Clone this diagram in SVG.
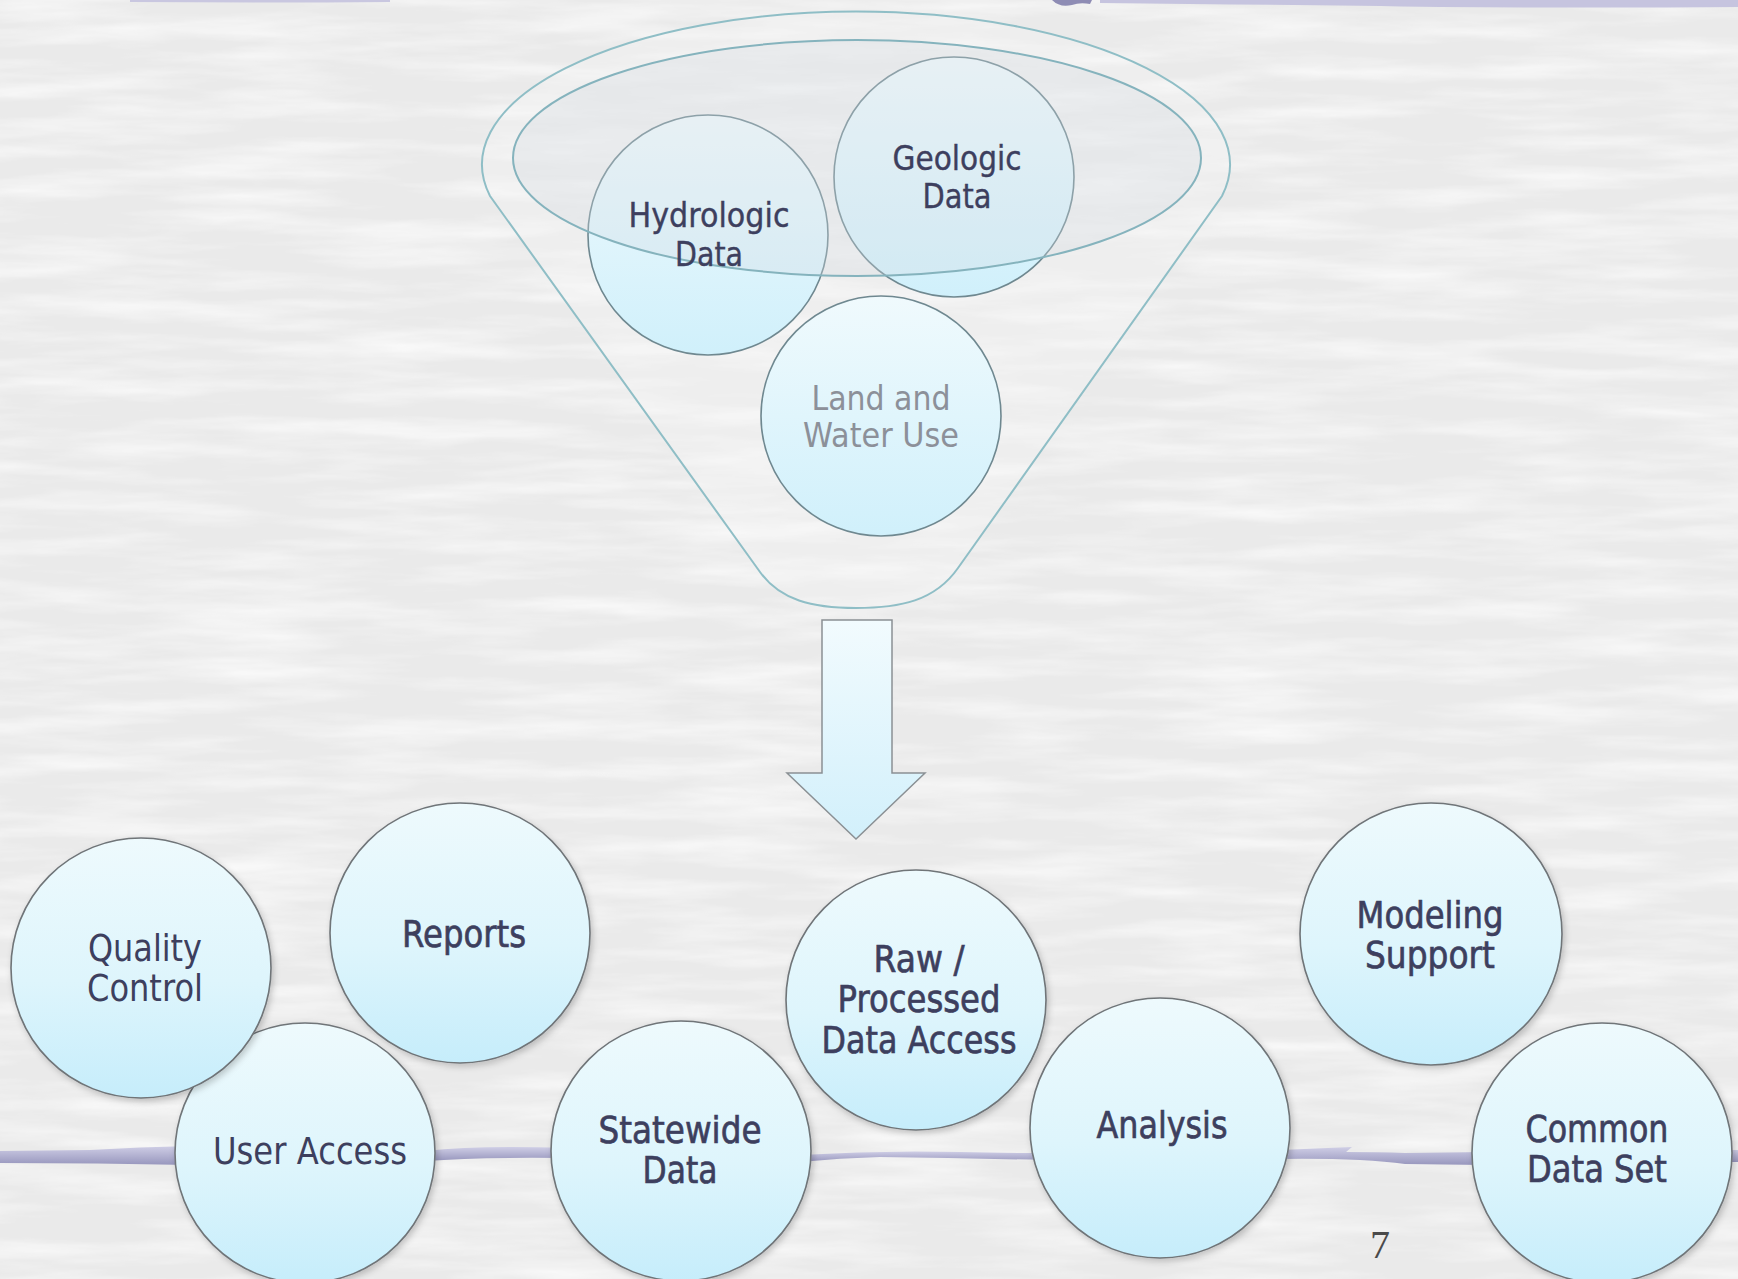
<svg xmlns="http://www.w3.org/2000/svg" width="1738" height="1279" viewBox="0 0 1738 1279">
<defs>
<style>
.node{stroke:#6f7478;stroke-width:1.6;fill:url(#circ);filter:url(#sh)}
.fnode{stroke:#6f8890;stroke-width:1.6;fill:url(#circF)}
.lbl{font-family:"DejaVu Sans",Verdana,sans-serif;font-size:38px;fill:#3d3f5e;text-anchor:middle}
.bold{stroke:#3d3f5e;stroke-width:0.7}
.flbl{font-family:"DejaVu Sans",Verdana,sans-serif;font-size:34px;fill:#3d3f5e;text-anchor:middle;stroke:#3d3f5e;stroke-width:0.4}
.glbl{font-family:"DejaVu Sans",Verdana,sans-serif;font-size:34px;fill:#8c9099;text-anchor:middle}
.bar{fill:url(#barG)}
</style>
<linearGradient id="circ" x1="0" y1="0" x2="0" y2="1">
<stop offset="0" stop-color="#eefafd"/><stop offset="0.55" stop-color="#def5fc"/><stop offset="1" stop-color="#c6edfb"/>
</linearGradient>
<linearGradient id="circF" x1="0" y1="0" x2="0" y2="1">
<stop offset="0" stop-color="#f0fafd"/><stop offset="1" stop-color="#d0f0fb"/>
</linearGradient>
<linearGradient id="arrowG" x1="0" y1="0" x2="0" y2="1">
<stop offset="0" stop-color="#f2fbfe"/><stop offset="1" stop-color="#d2f0fb"/>
</linearGradient>
<linearGradient id="barG" x1="0" y1="0" x2="0" y2="1">
<stop offset="0" stop-color="#cfcee6"/><stop offset="1" stop-color="#9796bd"/>
</linearGradient>
<filter id="sh" x="-10%" y="-10%" width="125%" height="125%">
<feDropShadow dx="2" dy="3" stdDeviation="3" flood-color="#000" flood-opacity="0.2"/>
</filter>
<filter id="paper" x="0" y="0" width="100%" height="100%">
<feTurbulence type="fractalNoise" baseFrequency="0.006 0.05" numOctaves="4" seed="11"/>
<feColorMatrix type="matrix" values="0 0 0 0 1  0 0 0 0 1  0 0 0 0 1  1.3 0 0 0 -0.5"/>
</filter>
</defs>

<g id="background">
<rect width="1738" height="1279" fill="#eaeaea"/>
<rect width="1738" height="1279" filter="url(#paper)"/>
<path d="M130,0 L390,0 L390,2 Q260,3 130,2 Z" fill="#c9c7e0"/>
<path d="M1100,0 L1738,0 L1738,7 Q1600,8 1440,7 Q1300,5 1100,3 Z" fill="#c6c4df"/>
<path d="M1052,0 Q1060,8 1072,5 Q1080,2 1090,4 L1092,0 Z" fill="#8e8cb4"/>
</g>

<g id="funnel">
<path d="M490,196 A374 153 0 1 1 1222,196 L958,568 C935,601 900,608 856,608 C812,608 780,600 760,572 Z" fill="#f5f6f7" fill-opacity="0.35" stroke="#8fbec6" stroke-width="2"/>
</g>

<g id="node-land-water-use">
<ellipse cx="881" cy="416" rx="120" ry="120" class="fnode" stroke="#8aa0a6"/>
<text class="glbl" x="881" y="410" textLength="139" lengthAdjust="spacingAndGlyphs">Land and</text>
<text class="glbl" x="881" y="447" textLength="156" lengthAdjust="spacingAndGlyphs">Water Use</text>
</g>

<g id="node-hydrologic-data">
<ellipse cx="708" cy="235" rx="120" ry="120" class="fnode"/>
</g>
<g id="node-geologic-data">
<ellipse cx="954" cy="177" rx="120" ry="120" class="fnode"/>
</g>

<g id="funnel-rim">
<ellipse cx="857" cy="158" rx="344" ry="118" fill="#d3dae0" fill-opacity="0.3" stroke="#85b3bd" stroke-width="2"/>
</g>

<g id="funnel-labels">
<text class="flbl" x="709" y="227" textLength="161" lengthAdjust="spacingAndGlyphs">Hydrologic</text>
<text class="flbl" x="709" y="266" textLength="68" lengthAdjust="spacingAndGlyphs">Data</text>
<text class="flbl" x="957" y="170" textLength="129" lengthAdjust="spacingAndGlyphs">Geologic</text>
<text class="flbl" x="957" y="208" textLength="69" lengthAdjust="spacingAndGlyphs">Data</text>
</g>

<g id="connectors">
<path d="M822,620 L892,620 L892,773 L925,773 L856,839 L787,773 L822,773 Z" fill="url(#arrowG)" stroke="#8a9094" stroke-width="1.5" stroke-linejoin="miter"/>
<path class="bar" d="M0,1151 L90,1150 Q140,1147 190,1146 L190,1165 Q100,1163 0,1163 Z"/>
<path class="bar" d="M425,1151 Q480,1145 565,1148 L565,1158 Q480,1157 425,1161 Z"/>
<path class="bar" d="M800,1155 Q880,1150 960,1152 Q1000,1153 1045,1153 L1045,1160 Q960,1158 880,1157 Q840,1158 800,1162 Z"/>
<path class="bar" d="M1280,1150 L1352,1147 L1346,1152 Q1380,1152 1405,1153 L1485,1152 L1485,1165 L1405,1164 Q1360,1158 1280,1159 Z"/>
<path class="bar" d="M1715,1150 L1738,1150 L1738,1162 L1715,1162 Z"/>
</g>

<g id="node-user-access">
<circle cx="305" cy="1153" r="130" class="node"/>
<text class="lbl" x="310" y="1164" textLength="194" lengthAdjust="spacingAndGlyphs">User Access</text>
</g>

<g id="node-quality-control">
<circle cx="141" cy="968" r="130" class="node"/>
<text class="lbl" x="145" y="961" textLength="114" lengthAdjust="spacingAndGlyphs">Quality</text>
<text class="lbl" x="145" y="1001" textLength="116" lengthAdjust="spacingAndGlyphs">Control</text>
</g>

<g id="node-reports">
<circle cx="460" cy="933" r="130" class="node"/>
<text class="lbl bold" x="464" y="947" textLength="124" lengthAdjust="spacingAndGlyphs">Reports</text>
</g>

<g id="node-statewide-data">
<circle cx="681" cy="1151" r="130" class="node"/>
<text class="lbl bold" x="680" y="1143" textLength="163" lengthAdjust="spacingAndGlyphs">Statewide</text>
<text class="lbl bold" x="680" y="1183" textLength="75" lengthAdjust="spacingAndGlyphs">Data</text>
</g>

<g id="node-raw-processed-data-access">
<circle cx="916" cy="1000" r="130" class="node"/>
<text class="lbl bold" x="919" y="972" textLength="91" lengthAdjust="spacingAndGlyphs">Raw /</text>
<text class="lbl bold" x="919" y="1012" textLength="163" lengthAdjust="spacingAndGlyphs">Processed</text>
<text class="lbl bold" x="919" y="1053" textLength="195" lengthAdjust="spacingAndGlyphs">Data Access</text>
</g>

<g id="node-analysis">
<circle cx="1160" cy="1128" r="130" class="node"/>
<text class="lbl bold" x="1162" y="1138" textLength="131" lengthAdjust="spacingAndGlyphs">Analysis</text>
</g>

<g id="node-modeling-support">
<circle cx="1431" cy="934" r="131" class="node"/>
<text class="lbl bold" x="1430" y="928" textLength="147" lengthAdjust="spacingAndGlyphs">Modeling</text>
<text class="lbl bold" x="1430" y="968" textLength="130" lengthAdjust="spacingAndGlyphs">Support</text>
</g>

<g id="node-common-data-set">
<circle cx="1602" cy="1153" r="130" class="node"/>
<text class="lbl bold" x="1597" y="1142" textLength="143" lengthAdjust="spacingAndGlyphs">Common</text>
<text class="lbl bold" x="1597" y="1182" textLength="140" lengthAdjust="spacingAndGlyphs">Data Set</text>
</g>

<g id="page-number">
<text x="1380" y="1258" font-family="'Liberation Serif','Times New Roman',serif" font-size="40" fill="#4a4a4a" text-anchor="middle">7</text>
</g>
</svg>
